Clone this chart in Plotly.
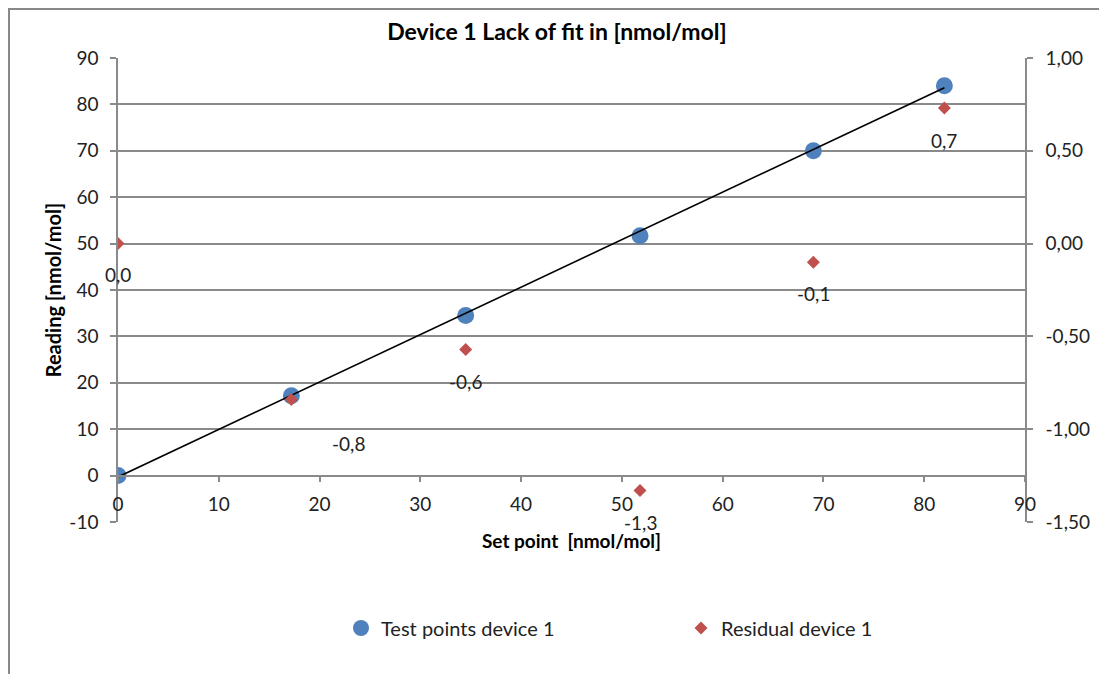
import plotly.graph_objects as go

# Data
set_points = [0.0, 17.2, 34.5, 51.8, 69.0, 82.0]
readings = [0.0, 17.2, 34.5, 51.7, 70.0, 84.0]
residuals = [0.0, -0.84, -0.57, -1.33, -0.10, 0.73]
residual_labels = ["0,0", "-0,8", "-0,6", "-1,3", "-0,1", "0,7"]
fit_x = [0.0, 82.0]
fit_y = [-0.3, 83.6]

x_ticks = [0, 10, 20, 30, 40, 50, 60, 70, 80, 90]
y_ticks = [-10, 0, 10, 20, 30, 40, 50, 60, 70, 80, 90]
y_ticktext = ["-10", "0", "10", "20", "30", "40", "50", "60", "70", "80", "90"]
y2_ticks = [-1.5, -1.0, -0.5, 0.0, 0.5, 1.0]
y2_ticktext = ["-1,50", "-1,00", "-0,50", "0,00", "0,50", "1,00"]

# label offsets (pixels) as placed in the original
label_dx = [0, 57, 0, 0, 0, 0]
label_dy = [-31, -44, -32, -32, -31, -32]

FONT = "Lato, Carlito, Calibri, sans-serif"
GRID = "#8a8a8a"
BLUE = "#4F81BD"
RED = "#C0504D"
TXT = "#222222"

# page body has an 8px margin: figure sizes compensate for it
W, H = 1099, 666
ML, MT = 110, 50
PW, PH = 907, 464
MR = W - ML - PW
MB = H - MT - PH

fig = go.Figure()

fig.add_trace(go.Scatter(
    x=set_points, y=readings, mode="markers", name="Test points device 1",
    marker=dict(color=BLUE, size=17, symbol="circle"),
    yaxis="y", showlegend=True))

fig.add_trace(go.Scatter(
    x=fit_x, y=fit_y, mode="lines", name="fit",
    line=dict(color="black", width=1.6), yaxis="y", showlegend=False))

fig.add_trace(go.Scatter(
    x=set_points, y=residuals, mode="markers", name="Residual device 1",
    marker=dict(color=RED, size=10, symbol="diamond"),
    yaxis="y2", showlegend=True))

for x, r, t, dx, dy in zip(set_points, residuals, residual_labels, label_dx, label_dy):
    fig.add_annotation(x=x, y=r, xref="x", yref="y2", text=t, showarrow=False,
                       xshift=dx, yshift=dy,
                       font=dict(family=FONT, size=19, color=TXT))

axis_common = dict(showline=True, linecolor=GRID, linewidth=1.5,
                   ticks="outside", ticklen=6, tickcolor=GRID, tickwidth=1.5,
                   tickfont=dict(size=19, color=TXT), zeroline=False)

fig.update_layout(
    width=W, height=H,
    margin=dict(l=ML, r=MR, t=MT, b=MB),
    paper_bgcolor="white", plot_bgcolor="white",
    separators=", ",
    font=dict(family=FONT, size=19, color=TXT),
    title=dict(text="<b>Device 1 Lack of fit in [nmol/mol]</b>",
               x=549 / W, xref="container", xanchor="center",
               y=1 - 24 / H, yref="container", yanchor="middle",
               font=dict(family=FONT, size=23, color="black")),
    xaxis=dict(range=[0, 90], tickvals=x_ticks,
               anchor="free", position=0.1, showgrid=False,
               ticklabelstandoff=6,
               title=dict(text="<b>Set point  [nmol/mol]</b>", font=dict(size=19, color="black"), standoff=20),
               **axis_common),
    yaxis=dict(range=[-10, 90], tickvals=y_ticks, ticktext=y_ticktext, domain=[0, 1],
               showgrid=True, gridcolor=GRID, gridwidth=1.5,
               ticklabelstandoff=8,
               title=dict(text="<b>Reading [nmol/mol]</b>", font=dict(size=20, color="black"), standoff=2),
               **axis_common),
    yaxis2=dict(range=[-1.5, 1.0], tickvals=y2_ticks, ticktext=y2_ticktext,
                overlaying="y", side="right", showgrid=False,
                ticklabelstandoff=9,
                **axis_common),
    legend=dict(orientation="h", x=333 / W, xref="container", xanchor="left",
                y=1 - 620 / H, yref="container", yanchor="middle",
                entrywidth=295, entrywidthmode="pixels",
                font=dict(family=FONT, size=20, color=TXT),
                itemsizing="trace"),
    shapes=[dict(type="rect", xref="paper", yref="paper",
                 x0=(1 - ML) / PW, x1=1.3, y0=-0.6, y1=(MT + PH - 1) / PH,
                 line=dict(color="#888888", width=2), layer="below")],
)

fig.write_html("out.html")
